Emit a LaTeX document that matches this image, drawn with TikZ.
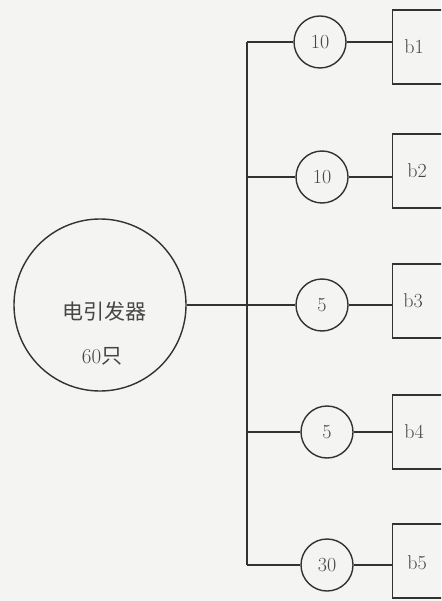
\documentclass[tikz,border=0pt]{standalone}
\usepackage{fontspec}
\newfontfamily\cjk{Noto Sans CJK SC}
\definecolor{lc}{RGB}{50,50,50}
\definecolor{tc}{RGB}{70,70,70}
\definecolor{bg}{RGB}{244,244,242}
\begin{document}
\begin{tikzpicture}[x=1pt,y=-1pt,
  big/.style={circle, draw=lc, line width=1.4pt, minimum size=172pt, inner sep=0pt},
  sm/.style={circle, draw=lc, line width=1.4pt, minimum size=52pt, inner sep=0pt, font=\fontsize{20}{20}\selectfont, text=tc},
  bx/.style={rectangle, draw=lc, line width=1.4pt, minimum width=70pt, minimum height=74pt, inner sep=0pt, anchor=west},
  lbl/.style={font=\fontsize{20}{20}\selectfont, text=tc, inner sep=0pt},
  cn/.style={font=\fontsize{21}{21}\selectfont, text=tc, inner sep=0pt},
  ln/.style={draw=lc, line width=1.4pt}
]
\useasboundingbox (0,0) rectangle (441,601);
\fill[bg] (0,0) rectangle (441,601);
\clip (0,0) rectangle (441,601);

% main circle
\node[big] (g) at (100,305) {};
\node[cn] (t1) at (104,312) {\cjk 电引发器};
\node[cn] (t2) at (102,356) {60\cjk 只};

% bus
\coordinate (btop) at (247,42);
\coordinate (bbot) at (247,565);
\coordinate (bmid) at (247,305);
\draw[ln] (btop) -- (bbot);
\draw[ln] (g.east) -- (bmid);

% small circles
\node[sm] (c1) at (320,42) {10};
\node[sm] (c2) at (322,177) {10};
\node[sm] (c3) at (322,305) {5};
\node[sm] (c4) at (327,432) {5};
\node[sm] (c5) at (327,565) {30};

% boxes
\node[bx] (b1) at (392,47) {};
\node[bx] (b2) at (392,171) {};
\node[bx] (b3) at (392,301) {};
\node[bx] (b4) at (392,432) {};
\node[bx] (b5) at (392,561) {};

\node[lbl] (l1) at (414,47) {b1};
\node[lbl] (l2) at (417,171) {b2};
\node[lbl] (l3) at (413,301) {b3};
\node[lbl] (l4) at (414,432) {b4};
\node[lbl] (l5) at (417,563) {b5};

% connectors
\foreach \i in {1,...,5}{
  \draw[ln] (c\i.west -| btop) -- (c\i.west);
  \draw[ln] (c\i.east) -- (c\i.east -| b\i.west);
}
\end{tikzpicture}
\end{document}
